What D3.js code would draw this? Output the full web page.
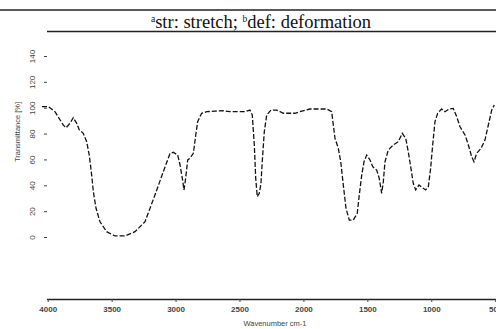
<!DOCTYPE html>
<html>
<head>
<meta charset="utf-8">
<script src="https://cdn.jsdelivr.net/npm/d3@7"></script>
<style>
  html, body { margin: 0; padding: 0; background: #fff; }
  svg { display: block; }
  .tick-label { font-family: "Liberation Sans", Arial, sans-serif; fill: #444; }
</style>
</head>
<body>
<div id="chart"></div>
<script>
// IR spectrum
const wavenumber = [4045, 3995, 3943, 3878, 3857, 3826, 3800, 3773, 3753, 3722, 3695, 3675, 3656, 3643, 3622, 3591, 3539, 3474, 3395, 3317,
  3239, 3161, 3096, 3043, 3018, 2983, 2965, 2947, 2934, 2921, 2905, 2887, 2861, 2842, 2827, 2796, 2756, 2692, 2627, 2574,
  2457, 2418, 2400, 2384, 2373, 2361, 2345, 2332, 2322, 2306, 2287, 2254, 2209, 2157, 2066, 2027, 1949, 1818, 1779, 1766,
  1753, 1727, 1708, 1688, 1667, 1641, 1610, 1579, 1563, 1544, 1526, 1505, 1479, 1458, 1427, 1407, 1388, 1375, 1362, 1336,
  1297, 1258, 1227, 1200, 1180, 1159, 1141, 1122, 1096, 1070, 1044, 1023, 1005, 989, 971, 950, 919, 893, 861, 828,
  801, 775, 736, 710, 684, 666, 645, 611, 580, 554, 527, 507];
const transmittance = [100.8, 100.8, 96.9, 86.6, 84.5, 87.9, 92.3, 87.9, 82.8, 80.2, 73.7, 63.4, 47.9, 35.0, 22.2, 11.8, 4.1, 0.8, 0.8, 4.1,
  11.8, 32.5, 50.5, 64.7, 65.5, 63.4, 55.7, 45.4, 36.4, 45.4, 59.6, 60.9, 64.7, 78.9, 89.2, 95.7, 96.9, 97.4, 97.7, 96.9,
  96.9, 98.2, 94.4, 71.2, 45.4, 31.2, 33.8, 41.5, 58.2, 81.4, 94.4, 98.2, 98.2, 95.7, 95.7, 96.9, 99.0, 99.0, 96.9, 86.6,
  76.3, 68.6, 58.2, 40.2, 22.2, 13.1, 13.1, 18.3, 32.5, 47.9, 58.2, 63.4, 59.6, 54.4, 51.8, 45.4, 33.8, 42.8, 58.2, 67.3,
  71.2, 73.7, 80.2, 76.3, 66.0, 53.1, 41.5, 36.4, 40.2, 38.1, 36.4, 38.9, 53.1, 71.2, 89.2, 95.7, 99.0, 96.9, 99.0, 99.5,
  93.0, 85.3, 78.9, 71.2, 62.1, 58.2, 64.7, 68.6, 75.0, 86.6, 98.2, 102.1];
const xTicks = [4000, 3500, 3000, 2500, 2000, 1500, 1000, 500];
const yTicks = [0, 20, 40, 60, 80, 100, 120, 140];

const W = 496, H = 329;
const svg = d3.select('#chart').append('svg').attr('width', W).attr('height', H);

const x = d3.scaleLinear().domain([4000, 500]).range([47.7, 495.2]);
const y = d3.scaleLinear().domain([0, 140]).range([237, 56]);

// table rules + caption
svg.append('line').attr('x1', 0).attr('x2', W).attr('y1', 10).attr('y2', 10)
  .attr('stroke', '#222').attr('stroke-width', 1.5);
svg.append('line').attr('x1', 47).attr('x2', W).attr('y1', 31.5).attr('y2', 31.5)
  .attr('stroke', '#222').attr('stroke-width', 1.5);

const caption = svg.append('text')
  .attr('x', 261).attr('y', 27.5)
  .attr('text-anchor', 'middle')
  .attr('font-family', '"Liberation Serif", "Times New Roman", serif')
  .attr('font-size', 18.5)
  .attr('fill', '#111');
caption.append('tspan').text('a').attr('font-size', 9.5).attr('dy', -6);
caption.append('tspan').text('str: stretch; ').attr('dy', 6);
caption.append('tspan').text('b').attr('font-size', 9.5).attr('dy', -6);
caption.append('tspan').text('def: deformation').attr('dy', 6);

// x axis
const xAxis = svg.append('g')
  .attr('transform', 'translate(0,299)')
  .call(d3.axisBottom(x).tickValues(xTicks).tickSize(3).tickSizeOuter(0).tickFormat(d3.format('d')));
xAxis.select('.domain').attr('d', `M47,0.5H${W}`).attr('stroke', '#222').attr('stroke-width', 1.3);
xAxis.selectAll('.tick line').attr('stroke', '#444');
xAxis.selectAll('.tick text')
  .attr('class', 'tick-label')
  .attr('font-size', 8)
  .attr('font-weight', 'bold')
  .attr('dy', '0.9em');

svg.append('text')
  .attr('class', 'tick-label')
  .attr('x', 275).attr('y', 326)
  .attr('text-anchor', 'middle')
  .attr('font-size', 7.5)
  .text('Wavenumber cm-1');

// y axis (ticks only, labels rotated)
const yAxis = svg.append('g')
  .attr('transform', 'translate(47,0)')
  .call(d3.axisLeft(y).tickValues(yTicks).tickSize(3).tickSizeOuter(0));
yAxis.select('.domain').remove();
yAxis.selectAll('.tick line').attr('stroke', '#444');
yAxis.selectAll('.tick text')
  .attr('class', 'tick-label')
  .attr('font-size', 8)
  .attr('x', 0)
  .attr('dy', 0)
  .attr('text-anchor', 'middle')
  .attr('transform', 'translate(-12,0) rotate(-90)');

svg.append('text')
  .attr('class', 'tick-label')
  .attr('transform', 'translate(20,132) rotate(-90)')
  .attr('text-anchor', 'middle')
  .attr('font-size', 7.5)
  .text('Transmittance [%]');

// spectrum
const line = d3.line()
  .x((d, i) => x(wavenumber[i]))
  .y(d => y(d));

svg.append('path')
  .datum(transmittance)
  .attr('d', line)
  .attr('fill', 'none')
  .attr('stroke', '#111')
  .attr('stroke-width', 1.3)
  .attr('stroke-dasharray', '5,2');
</script>
</body>
</html>
